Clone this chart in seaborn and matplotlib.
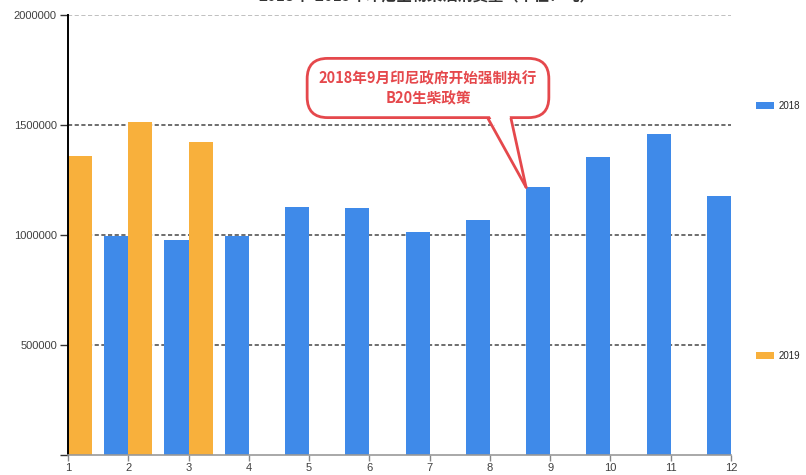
import matplotlib
matplotlib.use("Agg")
import matplotlib.pyplot as plt
import seaborn as sns
import pandas as pd
from matplotlib.patches import Patch, Polygon
from matplotlib.lines import Line2D

# ---- data ----
months_2018 = [2, 3, 4, 5, 6, 7, 8, 9, 10, 11, 12]
values_2018 = [994000, 977000, 997000, 1129000, 1121000, 1012000, 1067000,
               1217000, 1353000, 1459000, 1176000]
months_2019 = [1, 2, 3]
values_2019 = [1360000, 1512000, 1421000]
x_ticks = list(range(1, 13))
y_ticks = [0, 500000, 1000000, 1500000, 2000000]
y_tick_labels = ["", "500000", "1000000", "1500000", "2000000"]
series_names = ["2018", "2019"]
colors = ["#3F8AE9", "#F8B03C"]
callout_text = "2018年9月印尼政府开始强制执行\nB20生柴政策"
title_text = "2018年-2019年印尼生物柴油消费量（单位：吨）"

df = pd.DataFrame({
    "month": months_2018 + months_2019,
    "value": values_2018 + values_2019,
    "year": [series_names[0]] * len(months_2018) + [series_names[1]] * len(months_2019),
})

sns.set_theme(style="white")
plt.rcParams["font.family"] = ["Liberation Sans", "Noto Sans CJK SC", "DejaVu Sans"]

W, H = 806, 475
fig = plt.figure(figsize=(W / 100, H / 100), dpi=100)
ax = fig.add_axes([68 / W, 20 / H, (731 - 68) / W, (456 - 16) / H])

sns.barplot(data=df, x="month", y="value", hue="year", hue_order=series_names,
            palette=colors, saturation=1, native_scale=True, width=0.8, dodge=True,
            edgecolor="none", linewidth=0, ax=ax, legend=False, errorbar=None)

ax.set_xlim(1, 12)
ax.set_ylim(0, 2000000)
ax.set_xticks(x_ticks)
ax.set_xticklabels([str(t) for t in x_ticks])
ax.set_yticks(y_ticks)
ax.set_yticklabels(y_tick_labels)
ax.set_xlabel("")
ax.set_ylabel("")

ax.set_axisbelow(True)
ax.yaxis.grid(True, linestyle=(0, (2.5, 1.5)), color="#555555", linewidth=1.2)
ax.xaxis.grid(False)
gl = ax.get_ygridlines()
gl[0].set_visible(False)
gl[-1].set_color("#b5b5b5")

for s in ["top", "right"]:
    ax.spines[s].set_visible(False)
ax.spines["left"].set_color("black")
ax.spines["left"].set_linewidth(1.4)
ax.spines["bottom"].set_color("#999999")
ax.spines["bottom"].set_linewidth(1.2)

ax.tick_params(axis="y", direction="out", length=6, width=1, color="#333333",
               labelsize=8, labelcolor="#404040", pad=2, left=True)
ax.tick_params(axis="x", direction="out", length=4, width=1, color="#888888",
               labelsize=8, labelcolor="#404040", pad=2, bottom=True)

# title (cut off at the top as in the reference)
fig.text(0.53, 1.0 + 4 / H, title_text, ha="center", va="center", fontsize=11,
         fontweight="bold", color="#333333",
         family=["Noto Sans CJK SC", "DejaVu Sans"])

# callout bubble
red = "#E5484C"
box_cx, box_cy = 428, 88          # figure pixels from top-left
ax.text(box_cx / W, 1 - box_cy / H, callout_text, transform=fig.transFigure,
        ha="center", va="center", fontsize=10.5, fontweight="bold", color=red,
        family=["Noto Sans CJK SC", "DejaVu Sans"], linespacing=1.3,
        bbox=dict(boxstyle="round,pad=0.8,rounding_size=1.4", fc="white",
                  ec=red, lw=2),
        zorder=10, clip_on=False)

# tail of the bubble pointing at the September bar
fig.canvas.draw()
tip_px = ax.transData.transform((9 - 0.4, values_2018[months_2018.index(9)]))
tip = fig.transFigure.inverted().transform(tip_px)
box_bottom = 1 - 118.5 / H
bl, br = 488 / W, 511 / W
white_tri = Polygon([(bl + 1.5 / W, box_bottom + 3 / H), (br - 1.5 / W, box_bottom + 3 / H),
                     (tip[0], tip[1])], closed=True, transform=fig.transFigure,
                    fc="white", ec="none", zorder=11, clip_on=False)
ax.add_artist(white_tri)
for bx in (bl, br):
    ax.add_artist(Line2D([bx, tip[0]], [box_bottom, tip[1]], transform=fig.transFigure,
                         color=red, lw=2, zorder=12, clip_on=False,
                         solid_capstyle="round"))

# legend entries (split on the right side)
for name, col, ypix in zip(series_names, colors, [106, 356]):
    fig.legend(handles=[Patch(facecolor=col, edgecolor="none", label=name)],
               loc="center left", bbox_to_anchor=(756 / W, 1 - ypix / H),
               frameon=False, fontsize=7, handlelength=1.9, handleheight=0.8,
               handletextpad=0.4, borderpad=0, borderaxespad=0)

fig.savefig("out.png", dpi=100)
